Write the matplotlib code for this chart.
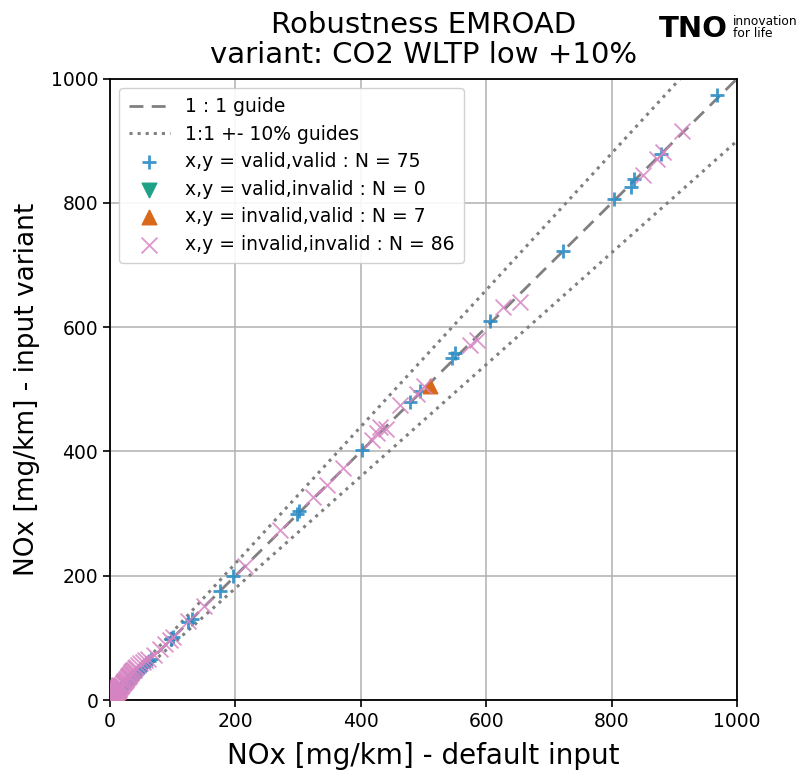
import matplotlib
matplotlib.use('Agg')
import matplotlib.pyplot as plt
import numpy as np

# NOx values [mg/km]
valid_x = [1, 2, 3, 3, 4, 5, 5, 6, 6, 7, 8, 8, 9, 9, 10, 11, 11, 12, 12, 13,
           14, 14, 15, 16, 16, 17, 18, 19, 20, 21, 22, 23, 24, 25, 26, 27, 28, 29, 30, 31,
           32, 33, 35, 36, 38, 40, 42, 44, 46, 48, 52, 55, 58, 62, 65,
           97, 100, 125, 130, 175, 196, 298, 302, 402, 478, 494, 545, 550, 606, 722,
           804, 830, 836, 879, 968]
valid_y = [1, 2, 4, 3, 5, 5, 6, 7, 6, 8, 9, 8, 10, 9, 11, 12, 11, 13, 12, 14,
           15, 14, 16, 17, 16, 18, 19, 20, 21, 22, 23, 24, 25, 26, 27, 28, 29, 30, 31, 32,
           33, 34, 36, 37, 39, 41, 43, 45, 47, 49, 53, 56, 59, 63, 66,
           98, 101, 126, 131, 176, 200, 299, 304, 403, 479, 498, 551, 559, 610, 723,
           806, 826, 838, 878, 974]

iv_x = [510, 4, 6, 8, 10, 12, 15]
iv_y = [505, 5, 7, 9, 11, 13, 16]

vi_x = []
vi_y = []

ii_x = [1, 1, 2, 2, 3, 3, 4, 4, 5, 5, 6, 6, 7, 7, 8, 8, 9, 9, 10, 10,
        11, 11, 12, 12, 13, 13, 14, 14, 15, 15, 16, 17, 18, 19, 20, 21, 22, 23, 24, 25,
        26, 27, 28, 29, 30, 31, 32, 33, 34, 35, 36, 38, 40, 42, 45, 48, 52, 56, 60, 70,
        80, 88,
        95, 100, 125, 150, 215, 271, 324, 346, 372, 418, 425, 431, 440, 462, 490, 500,
        574, 585, 627, 654, 850, 872, 882, 912]
ii_y = [2, 3, 3, 4, 4, 6, 5, 7, 7, 9, 8, 11, 9, 12, 10, 14, 12, 15, 13, 17,
        14, 18, 15, 19, 17, 21, 18, 22, 19, 24, 21, 22, 24, 25, 27, 28, 29, 30, 31, 33,
        34, 35, 37, 38, 39, 41, 42, 43, 45, 46, 48, 49, 52, 54, 57, 60, 62, 64, 66, 72,
        82, 90,
        97, 102, 127, 152, 216, 274, 327, 346, 374, 419, 430, 440, 436, 475, 493, 505,
        572, 580, 633, 641, 845, 870, 882, 915]

guide = [0, 1000]

plt.rcParams['font.family'] = 'DejaVu Sans'
fig = plt.figure(figsize=(8.03, 7.71), dpi=100)
ax = fig.add_axes([0.137, 0.092, 0.781, 0.806])

ax.plot(guide, guide, '--', color='#808080', lw=2, dashes=(5, 3), label='1 : 1 guide', zorder=2)
ax.plot(guide, [g * 1.1 for g in guide], ':', color='#808080', lw=2.2, label='1:1 +- 10% guides', zorder=2)
ax.plot(guide, [g * 0.9 for g in guide], ':', color='#808080', lw=2.2, zorder=2)

ax.scatter(valid_x, valid_y, marker='+', s=110, linewidths=2, color='#2b8cc4', alpha=0.9,
           label=f'x,y = valid,valid : N = {len(valid_x)}', zorder=3)
ax.scatter(vi_x, vi_y, marker='v', s=110, color='#1fa187',
           label=f'x,y = valid,invalid : N = {len(vi_x)}', zorder=3)
ax.scatter(iv_x, iv_y, marker='^', s=110, color='#d8691a',
           label=f'x,y = invalid,valid : N = {len(iv_x)}', zorder=3)
ax.scatter(ii_x, ii_y, marker='x', s=130, linewidths=1.3, color='#d684c2', alpha=0.85,
           label=f'x,y = invalid,invalid : N = {len(ii_x)}', zorder=3)

ax.set_xlim(0, 1000)
ax.set_ylim(0, 1000)
ax.set_xticks([0, 200, 400, 600, 800, 1000])
ax.set_yticks([0, 200, 400, 600, 800, 1000])
ax.tick_params(labelsize=13.5, width=1.2, length=5)
ax.grid(color='#b0b0b0', lw=1.1)
ax.set_axisbelow(True)
for sp in ax.spines.values():
    sp.set_linewidth(1.3)

ax.set_xlabel('NOx [mg/km] - default input', fontsize=20, labelpad=8)
ax.set_ylabel('NOx [mg/km] - input variant', fontsize=19, labelpad=8)
ax.set_title('Robustness EMROAD\nvariant: CO2 WLTP low +10%', fontsize=21, pad=11, linespacing=1.1)

ax.legend(loc='upper left', fontsize=13.5, handlelength=2.2, borderpad=0.5,
          labelspacing=0.45, framealpha=0.9, edgecolor='#cccccc')

# TNO logo as text
fig.text(0.864, 0.962, 'TNO', fontsize=21, fontweight='black', ha='center', va='center')
fig.text(0.913, 0.964, 'innovation\nfor life', fontsize=8.8, ha='left', va='center', linespacing=0.9)

fig.savefig('out.png', dpi=100)
